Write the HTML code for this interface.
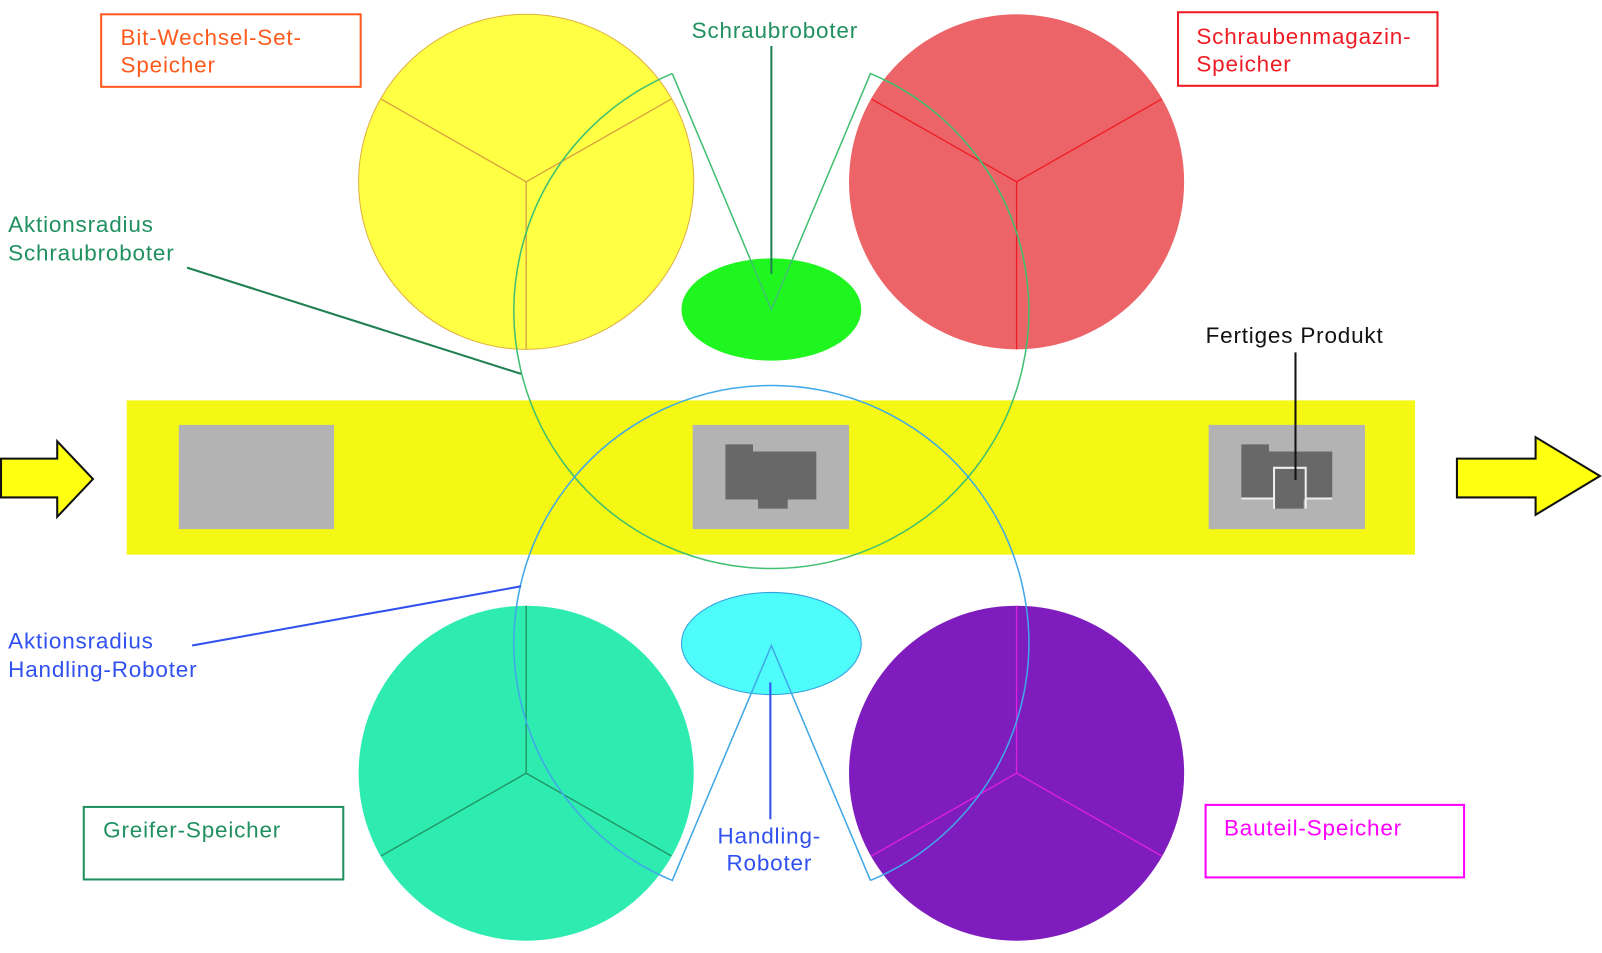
<!DOCTYPE html>
<html><head><meta charset="utf-8"><style>
html,body{margin:0;padding:0;background:#fff;}
svg{display:block;}
text{font-family:"Liberation Sans",Arial,sans-serif;font-size:22px;letter-spacing:0.8px;}
</style></head><body>
<svg width="1602" height="953" viewBox="0 0 1568 933" preserveAspectRatio="none">
<rect width="1568" height="933" fill="#fff"/>
<!-- belt -->
<rect x="124" y="392" width="1261" height="151" fill="#f4f814"/>
<rect x="175" y="416" width="152" height="102" fill="#b3b3b3"/>
<rect x="678" y="416" width="153" height="102" fill="#b3b3b3"/>
<path d="M710 435 H737 V442 H799 V489 H771 V498 H742 V489 H710 Z" fill="#686868"/>
<rect x="1183" y="416" width="153" height="102" fill="#b3b3b3"/>
<path d="M1215 435 H1242 V442 H1304 V489 H1276 V498 H1247 V489 H1215 Z" fill="#686868"/>
<path d="M1215 488 H1247 M1278 488 H1304 M1247 498 V458 H1278 V498" stroke="#eee" stroke-width="2" fill="none"/>
<!-- arrows -->
<path d="M1 449 H56 V432 L91 469 L56 506 V487 H1 Z" fill="#ffff10" stroke="#111" stroke-width="2"/>
<path d="M1426 449 H1503 V428 L1566 466 L1503 504 V487 H1426 Z" fill="#ffff10" stroke="#111" stroke-width="2"/>
<!-- storage circles -->
<circle cx="515" cy="178" r="164" fill="#ffff44" stroke="#e0b040" stroke-width="1"/>
<path d="M515 178 L373 97 M515 178 L657 97 M515 178 V342" stroke="#d8a040" stroke-width="1.3" fill="none"/>
<circle cx="995" cy="178" r="164" fill="#ec6468"/>
<path d="M995 178 L853 97 M995 178 L1137 97 M995 178 V342" stroke="#ee1c24" stroke-width="1.3" fill="none"/>
<circle cx="515" cy="757" r="164" fill="#2eecb0"/>
<path d="M515 757 L373 838 M515 757 L657 838 M515 757 V593" stroke="#209060" stroke-width="1.3" fill="none"/>
<circle cx="995" cy="757" r="164" fill="#7e1cbd"/>
<path d="M995 757 L853 838 M995 757 L1137 838 M995 757 V593" stroke="#e020e0" stroke-width="1.3" fill="none"/>
<!-- robots -->
<ellipse cx="755" cy="303" rx="88" ry="50" fill="#1ff51f"/>
<ellipse cx="755" cy="630" rx="88" ry="50" fill="#4ffcfc" stroke="#30a0e0" stroke-width="1"/>
<!-- action radii -->
<path d="M658 72 L755 303 L852 72 A252 252 0 1 1 658 72" fill="none" stroke="#40c070" stroke-width="1.5"/>
<path d="M852 862 L755 632 L658 862 A252 252 0 1 1 852 862" fill="none" stroke="#40a8e8" stroke-width="1.5"/>
<!-- leader lines -->
<line x1="755" y1="45" x2="755" y2="268" stroke="#208050" stroke-width="2"/>
<line x1="183" y1="262" x2="510" y2="366" stroke="#208050" stroke-width="2"/>
<line x1="188" y1="632" x2="510" y2="574" stroke="#3050f0" stroke-width="2"/>
<line x1="754" y1="668" x2="754" y2="802" stroke="#3050f0" stroke-width="2"/>
<line x1="1268" y1="345" x2="1268" y2="470" stroke="#111" stroke-width="2"/>
<!-- label boxes -->
<rect x="99" y="14" width="254" height="71" fill="none" stroke="#ff5a1e" stroke-width="2"/>
<text x="118" y="44" fill="#ff5a1e">Bit-Wechsel-Set-</text>
<text x="118" y="71" fill="#ff5a1e">Speicher</text>
<rect x="1153" y="12" width="254" height="72" fill="none" stroke="#ee1c24" stroke-width="2"/>
<text x="1171" y="43" fill="#ee1c24">Schraubenmagazin-</text>
<text x="1171" y="70" fill="#ee1c24">Speicher</text>
<rect x="82" y="790" width="254" height="71" fill="none" stroke="#209060" stroke-width="2"/>
<text x="101" y="820" fill="#209060">Greifer-Speicher</text>
<rect x="1180" y="788" width="253" height="71" fill="none" stroke="#ff00ff" stroke-width="2"/>
<text x="1198" y="818" fill="#ff00ff">Bauteil-Speicher</text>
<text x="677" y="37" fill="#209060">Schraubroboter</text>
<text x="8" y="227" fill="#209060">Aktionsradius</text>
<text x="8" y="255" fill="#209060">Schraubroboter</text>
<text x="8" y="635" fill="#3050f0">Aktionsradius</text>
<text x="8" y="663" fill="#3050f0">Handling-Roboter</text>
<text x="753" y="826" fill="#3050f0" text-anchor="middle">Handling-</text>
<text x="753" y="852" fill="#3050f0" text-anchor="middle">Roboter</text>
<text x="1180" y="336" fill="#111">Fertiges Produkt</text>
</svg>
</body></html>
